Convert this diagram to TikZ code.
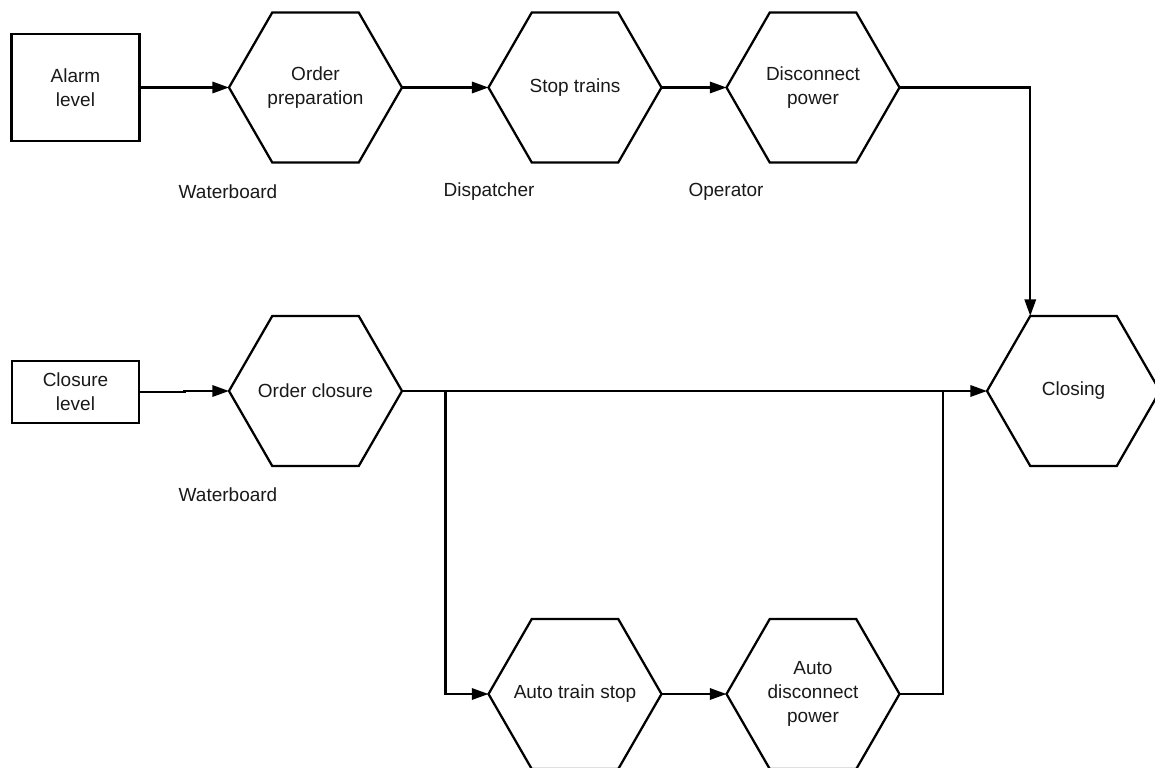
\documentclass[tikz,border=0pt]{standalone}
\usepackage{fontspec}
\setmainfont{Liberation Sans}
\usetikzlibrary{arrows.meta}
\newcommand{\hexnode}[4]{%
  \node[hexbox] (#1) at (#2,#3) {#4};
  \draw[hexline] (#1.west) -- ([xshift=32.44pt]#1.north west) -- ([xshift=-32.44pt]#1.north east)
    -- (#1.east) -- ([xshift=-32.44pt]#1.south east) -- ([xshift=32.44pt]#1.south west) -- cycle;}
\begin{document}
\begin{tikzpicture}[x=0.75pt,y=-0.75pt,
  every node/.style={font=\fontsize{14.25pt}{18pt}\selectfont, text=black!90},
  hexbox/.style={rectangle, minimum width=129.75pt, minimum height=112.5pt, inner sep=0pt, outer sep=0pt, align=center},
  hexline/.style={line width=1.7pt, line join=miter},
  boxnode/.style={draw, line width=1.7pt, rectangle, inner sep=0pt, align=center},
  conn/.style={line width=1.7pt, -{Triangle[length=12.5pt,width=8.5pt]}},
  plain/.style={line width=1.7pt},
  role/.style={inner sep=0pt}]
\useasboundingbox (0,0) rectangle (1155,767);
% top row
\node[boxnode, minimum width=96pt, minimum height=80pt] (alarm) at (75.5,87.5) {Alarm\\level};
\hexnode{prep}{315.5}{87.5}{Order\\preparation}
\hexnode{stop}{575}{87.5}{Stop trains}
\hexnode{disc}{813}{87.5}{Disconnect\\power}
% roles
\node[role] (r1) at (228,192) {Waterboard};
\node[role] (r2) at (489,192) {Dispatcher};
\node[role] (r3) at (726,192) {Operator};
\node[role] (r4) at (228,495) {Waterboard};
% middle row
\node[boxnode, minimum width=95pt, minimum height=47pt] (closure) at (75.5,392) {Closure\\level};
\hexnode{oclos}{315.5}{391}{Order closure}
\hexnode{closing}{1073.5}{391}{Closing}
% bottom row
\hexnode{ats}{575}{694}{Auto train stop}
\hexnode{adp}{813}{694}{Auto\\disconnect\\power}
% branch points and corner
\coordinate (b1) at (445.5,391);
\coordinate (b2) at (943,391);
\coordinate (closingtl) at ([xshift=32.44pt]closing.north west);
% connectors
\draw[conn] (alarm.east) -- (prep.west);
\draw[conn] (prep.east) -- (stop.west);
\draw[conn] (stop.east) -- (disc.west);
\draw[conn] (disc.east) -| (closingtl);
\draw[conn] (closure.east) -- ++(44.5,0) |- (oclos.west);
\draw[conn] (oclos.east) -- (closing.west);
\draw[conn] (b1) |- (ats.west);
\draw[conn] (ats.east) -- (adp.west);
\draw[plain] (adp.east) -| (b2);
\end{tikzpicture}
\end{document}
